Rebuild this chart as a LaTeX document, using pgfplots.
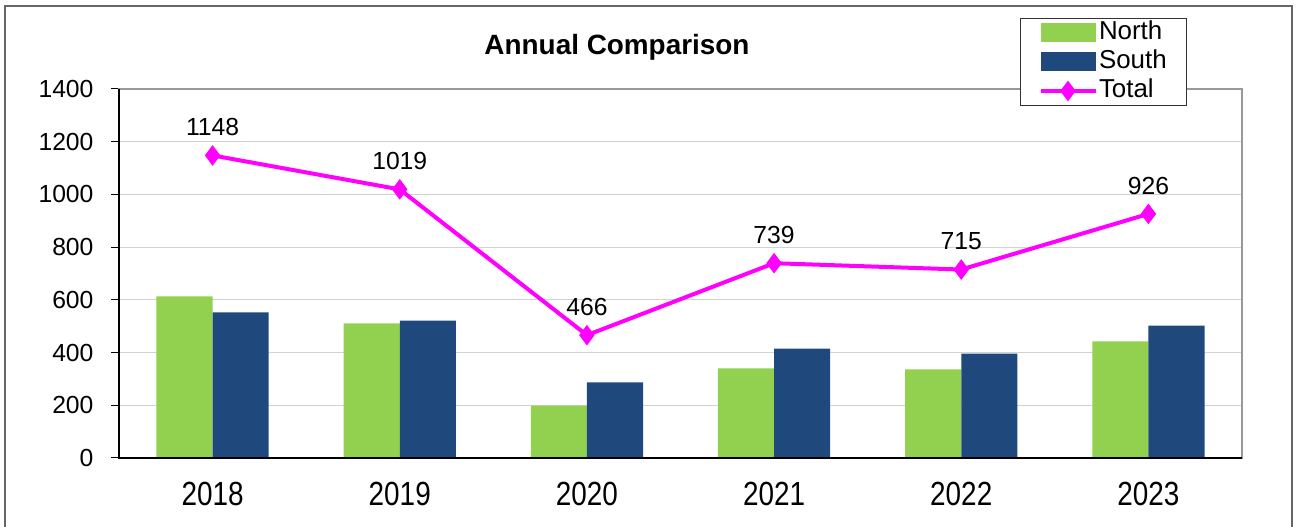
\documentclass[border=0pt]{standalone}
\usepackage{pgfplots}
\pgfplotsset{compat=1.18}
\usepackage{fontspec}
\setmainfont{Liberation Sans}
\definecolor{northg}{HTML}{92D050}
\definecolor{southb}{HTML}{1F497D}
\definecolor{totm}{HTML}{FF00FF}
\newcommand{\fs}{\fontsize{24.8}{29}\selectfont}
\newcommand{\fx}{\fontsize{28}{32}\selectfont}
\newcommand{\fl}{\fontsize{26}{30}\selectfont}
\newcommand{\xl}[1]{\scalebox{1}[1.2]{#1}}
\pgfplotsset{barleg/.style={legend image code/.code={\fill[##1,draw=none] (0bp,-9.5bp) rectangle (55bp,9.5bp);}},
  lineleg/.style={legend image code/.code={\draw[##1, mark repeat=2, mark phase=2] plot coordinates {(0bp,0bp) (27.5bp,0bp) (55bp,0bp)};}}}
\begin{document}
\begin{tikzpicture}[x=1bp,y=1bp]
\useasboundingbox (0,0) rectangle (1297,527);
\draw[gray!80!black, line width=1.5bp] (5,-10) -- (5,521) -- (1292,521) -- (1292,-10);
\begin{axis}[at={(119bp,69bp)}, anchor=south west, scale only axis,
  width=1123bp, height=369bp,
  xmin=-0.5, xmax=5.5, ymin=0, ymax=1400,
  ytick={0,200,...,1400}, ytick pos=left, xtick pos=bottom,
  xtick={0,...,5}, xticklabels={\xl{2018},\xl{2019},\xl{2020},\xl{2021},\xl{2022},\xl{2023}},
  minor xtick={-0.5,0.5,...,5.5},
  xtick style={draw=none},
  minor x tick style={black, line width=1bp},
  ytick style={black, line width=1bp},
  tick align=outside, major tick length=8bp, minor tick length=8bp,
  ymajorgrids, grid style={gray!35, line width=1.2bp},
  axis line style={gray!80, line width=1.5bp},
  yticklabel style={font=\fs, xshift=-14bp},
  xticklabel style={font=\fx, yshift=-13bp},
  /pgf/number format/assume math mode=true,
  /pgf/number format/1000 sep={},
  legend style={at={(0.8023,1.1924)}, anchor=north west, draw=black!80, line width=1bp,
    font=\fl, inner xsep=18bp, inner ysep=0.5bp, row sep=1bp,
    nodes={inner xsep=1.5bp, inner ysep=1bp, text height=20bp, text depth=6bp}},
  legend cell align=left,
  clip=false,
]
\addplot[ybar, bar width=0.3, bar shift=-0.15, fill=northg, draw=none, barleg]
  coordinates {(0,613) (1,511) (2,199) (3,340) (4,336) (5,442)};
\addlegendentry{North}
\addplot[ybar, bar width=0.3, bar shift=0.15, fill=southb, draw=none, barleg]
  coordinates {(0,552) (1,521) (2,287) (3,415) (4,396) (5,502)};
\addlegendentry{South}
\addplot[totm, line width=4bp, mark=diamond*, mark size=7bp,
  mark options={solid},
  nodes near coords,
  every node near coord/.append style={text=black, font=\fs, anchor=south, yshift=14bp},
  lineleg]
  coordinates {(0,1148) (1,1019) (2,466) (3,739) (4,715) (5,926)};
\addlegendentry{Total}
\draw[black, line width=1.5bp] (rel axis cs:0,1) -- (rel axis cs:0,0) -- (rel axis cs:1,0);
\end{axis}
\node[font=\bfseries\fx] at (617,480) {Annual Comparison};
\end{tikzpicture}
\end{document}
